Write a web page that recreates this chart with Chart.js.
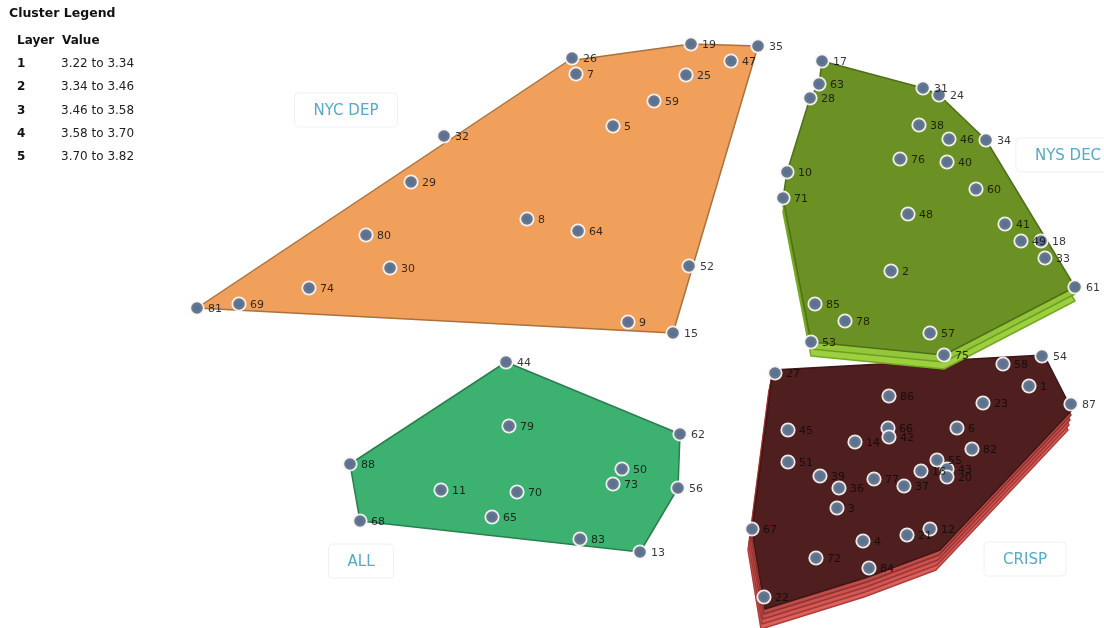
<!DOCTYPE html>
<html>
<head>
<meta charset="utf-8">
<script src="https://cdn.jsdelivr.net/npm/chart.js@4.4.0/dist/chart.umd.min.js"></script>
<style>
  html, body { margin: 0; padding: 0; background: #fff; overflow: hidden; }
</style>
</head>
<body>
<canvas id="chart" width="1104" height="628"></canvas>
<script>
// cluster point ids and positions (plot units, y grows downward)
const nycIds = [81, 69, 74, 30, 80, 29, 32, 8, 64, 26, 7, 19, 25, 59, 5, 47, 35, 52, 9, 15];
const nycX = [197, 239, 309, 390, 366, 411, 444, 527, 578, 572, 576, 691, 686, 654, 613, 731, 758, 689, 628, 673];
const nycY = [308, 304, 288, 268, 235, 182, 136, 219, 231, 58, 74, 44, 75, 101, 126, 61, 46, 266, 322, 333];

const nysIds = [17, 63, 28, 31, 24, 38, 46, 34, 76, 40, 10, 71, 60, 48, 41, 49, 18, 33, 2, 61, 85, 78, 57, 53, 75];
const nysX = [822, 819, 810, 923, 939, 919, 949, 986, 900, 947, 787, 783, 976, 908, 1005, 1021, 1041, 1045, 891, 1075, 815, 845, 930, 811, 944];
const nysY = [61, 84, 98, 88, 95, 125, 139, 140, 159, 162, 172, 198, 189, 214, 224, 241, 241, 258, 271, 287, 304, 321, 333, 342, 355];

const allIds = [44, 79, 62, 88, 50, 11, 70, 73, 56, 68, 65, 83, 13];
const allX = [506, 509, 680, 350, 622, 441, 517, 613, 678, 360, 492, 580, 640];
const allY = [362, 426, 434, 464, 469, 490, 492, 484, 488, 521, 517, 539, 552];

const crispIds = [27, 58, 54, 1, 86, 23, 87, 45, 66, 42, 6, 14, 82, 51, 55, 16, 43, 20, 39, 77, 37, 36, 3, 67, 12, 21, 4, 72, 84, 22];
const crispX = [775, 1003, 1042, 1029, 889, 983, 1071, 788, 888, 889, 957, 855, 972, 788, 937, 921, 947, 947, 820, 874, 904, 839, 837, 752, 930, 907, 863, 816, 869, 764];
const crispY = [373, 364, 356, 386, 396, 403, 404, 430, 428, 437, 428, 442, 449, 462, 460, 471, 469, 477, 476, 479, 486, 488, 508, 529, 529, 535, 541, 558, 568, 597];

// cluster outlines
const nycHullX = [197, 568, 691, 758, 673];
const nycHullY = [308, 61, 44, 46, 333];
const nysHullX = [822, 923, 939, 986, 1075, 944, 811, 783, 787, 810, 819];
const nysHullY = [61, 88, 95, 140, 287, 355, 342, 198, 172, 98, 84];
const allHullX = [506, 680, 678, 640, 360, 350];
const allHullY = [362, 434, 488, 552, 521, 464];
const crispHullX = [773, 1044, 1072, 940, 868, 765, 752];
const crispHullY = [370, 355, 410, 550, 577, 609, 530];

// number of stacked layers per cluster
const nycLayers = 1, nysLayers = 3, allLayers = 1, crispLayers = 5;

// cluster name tags
const tagNames = ['NYC DEP', 'NYS DEC', 'ALL', 'CRISP'];
const tagX = [346, 1068, 361, 1025];
const tagY = [110, 155, 561, 559];

// legend table
const legendTitle = 'Cluster Legend';
const legendHead = ['Layer', 'Value'];
const legendLayers = ['1', '2', '3', '4', '5'];
const legendValues = ['3.22 to 3.34', '3.34 to 3.46', '3.46 to 3.58', '3.58 to 3.70', '3.70 to 3.82'];

const FONT = '"DejaVu Sans", sans-serif';

// fill colours listed top layer first
const clusters = [
  { hx: crispHullX, hy: crispHullY, layers: crispLayers, dx: -1, dy: 5,
    fills: ['#4f1e1e', '#bd4b48', '#c9524f', '#d35855', '#dc605c'],
    strokes: ['#3d1616', '#8e302e', '#9a3532', '#a33936', '#ac3d3a'] },
  { hx: nysHullX, hy: nysHullY, layers: nysLayers, dx: 0, dy: 7,
    fills: ['#6b9024', '#93c63a', '#9dd03f'],
    strokes: ['#4f6f17', '#6e9f22', '#76a826'] },
  { hx: nycHullX, hy: nycHullY, layers: nycLayers, dx: 0, dy: 0,
    fills: ['#f1a05c'], strokes: ['#a8723f'] },
  { hx: allHullX, hy: allHullY, layers: allLayers, dx: 0, dy: 0,
    fills: ['#3cb170'], strokes: ['#2b7f4f'] }
];

function makeMarker() {
  const c = document.createElement('canvas');
  c.width = 18; c.height = 18;
  const g = c.getContext('2d');
  g.beginPath(); g.arc(9, 9, 7.6, 0, Math.PI * 2);
  g.fillStyle = 'rgba(245,245,245,0.95)'; g.fill();
  g.beginPath(); g.arc(9, 9, 5.8, 0, Math.PI * 2);
  g.fillStyle = '#6a768c'; g.fill();
  g.beginPath(); g.arc(9, 9, 3.2, 0, Math.PI * 2);
  g.fillStyle = '#587292'; g.fill();
  return c;
}
const marker = makeMarker();

function pts(xs, ys) { return xs.map((x, i) => ({ x: x, y: ys[i] })); }

const hullPlugin = {
  id: 'hulls',
  beforeDatasetsDraw(chart) {
    const ctx = chart.ctx, sx = chart.scales.x, sy = chart.scales.y;
    ctx.save();
    clusters.forEach(c => {
      for (let i = c.layers - 1; i >= 0; i--) {
        ctx.beginPath();
        c.hx.forEach((v, k) => {
          const px = sx.getPixelForValue(v + i * c.dx);
          const py = sy.getPixelForValue(c.hy[k] + i * c.dy);
          if (k === 0) ctx.moveTo(px, py); else ctx.lineTo(px, py);
        });
        ctx.closePath();
        ctx.fillStyle = c.fills[i];
        ctx.fill();
        ctx.lineWidth = 1.5;
        ctx.lineJoin = 'round';
        ctx.strokeStyle = c.strokes[i];
        ctx.stroke();
      }
    });
    ctx.restore();
  },
  afterDatasetsDraw(chart) {
    const ctx = chart.ctx;
    ctx.save();
    ctx.font = '11px ' + FONT;
    ctx.textBaseline = 'middle';
    ctx.textAlign = 'left';
    chart.data.datasets.forEach((ds, d) => {
      const meta = chart.getDatasetMeta(d);
      meta.data.forEach((el, i) => {
        ctx.fillStyle = 'rgba(15,10,10,0.82)';
        ctx.fillText(String(ds.ids[i]), el.x + 11, el.y + 1);
      });
    });
    ctx.restore();
  },
  afterDraw(chart) {
    const ctx = chart.ctx, sx = chart.scales.x, sy = chart.scales.y;
    ctx.save();
    // cluster tags
    ctx.font = '15px ' + FONT;
    ctx.textBaseline = 'middle';
    ctx.textAlign = 'center';
    tagNames.forEach((t, i) => {
      const cx = sx.getPixelForValue(tagX[i]), cy = sy.getPixelForValue(tagY[i]);
      const w = ctx.measureText(t).width + 38, h = 34;
      ctx.beginPath();
      ctx.roundRect(cx - w / 2, cy - h / 2, w, h, 4);
      ctx.fillStyle = 'rgba(255,255,255,0.95)';
      ctx.fill();
      ctx.strokeStyle = '#eef0f2';
      ctx.lineWidth = 1;
      ctx.stroke();
      ctx.fillStyle = '#55aac4';
      ctx.fillText(t, cx, cy + 1);
    });
    // legend
    ctx.textAlign = 'left';
    ctx.fillStyle = '#111';
    ctx.font = 'bold 12.5px ' + FONT;
    ctx.fillText(legendTitle, 9, 14);
    ctx.font = 'bold 12px ' + FONT;
    ctx.fillText(legendHead[0], 17, 41);
    ctx.fillText(legendHead[1], 62, 41);
    legendLayers.forEach((l, i) => {
      const y = 64 + i * 23.3;
      ctx.font = 'bold 12px ' + FONT;
      ctx.fillStyle = '#111';
      ctx.fillText(l, 17, y);
      ctx.font = '12px ' + FONT;
      ctx.fillStyle = '#222';
      ctx.fillText(legendValues[i], 61, y);
    });
    ctx.restore();
  }
};

const pointStyle = { pointStyle: marker, pointRadius: 8, pointHoverRadius: 8 };

new Chart(document.getElementById('chart'), {
  type: 'scatter',
  data: {
    datasets: [
      Object.assign({ label: 'CRISP', ids: crispIds, data: pts(crispX, crispY) }, pointStyle),
      Object.assign({ label: 'NYS DEC', ids: nysIds, data: pts(nysX, nysY) }, pointStyle),
      Object.assign({ label: 'NYC DEP', ids: nycIds, data: pts(nycX, nycY) }, pointStyle),
      Object.assign({ label: 'ALL', ids: allIds, data: pts(allX, allY) }, pointStyle)
    ]
  },
  options: {
    responsive: false,
    animation: false,
    layout: { padding: 0, autoPadding: false },
    clip: false,
    scales: {
      x: { type: 'linear', min: 0, max: 1104, display: false },
      y: { type: 'linear', min: 0, max: 628, reverse: true, display: false }
    },
    plugins: {
      legend: { display: false },
      tooltip: { enabled: false }
    }
  },
  plugins: [hullPlugin]
});
</script>
</body>
</html>
